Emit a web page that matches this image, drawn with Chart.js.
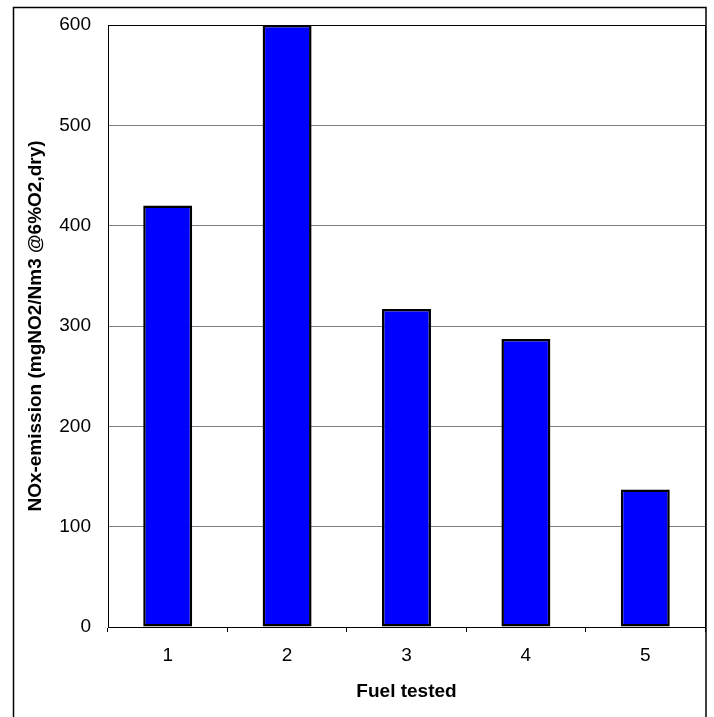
<!DOCTYPE html>
<html>
<head>
<meta charset="utf-8">
<script src="https://cdn.jsdelivr.net/npm/chart.js@4"></script>
<style>
    html, body { margin: 0; padding: 0; background: #fff; }
    #wrap { width: 714px; height: 717px; position: relative; }
</style>
</head>
<body>
<div id="wrap"><canvas id="noxChart" width="714" height="717"></canvas></div>
<script>
// Fuel test data
const fuels = ['1', '2', '3', '4', '5'];
const noxValues = [420, 600, 317, 287, 137];
const yTicks = [0, 100, 200, 300, 400, 500, 600];

const font = "'Liberation Sans', Arial, sans-serif";

// Plot frame + outer chart border
const framePlugin = {
    id: 'frame',
    afterDraw(chart) {
        const { ctx, chartArea } = chart;
        ctx.save();
        ctx.strokeStyle = '#000';
        ctx.lineWidth = 1;
        ctx.strokeRect(chartArea.left + 0.5, chartArea.top + 0.5,
            chartArea.right - chartArea.left, chartArea.bottom - chartArea.top);
        ctx.lineWidth = 1.5;
        ctx.strokeRect(13.5, 7.5, 692.5, 740);
        ctx.restore();
    }
};

new Chart(document.getElementById('noxChart'), {
    type: 'bar',
    data: {
        labels: fuels,
        datasets: [{
            data: noxValues,
            backgroundColor: '#0000ff',
            borderColor: '#000',
            borderWidth: 2.5,
            borderSkipped: false,
            categoryPercentage: 1,
            barPercentage: 0.41
        }]
    },
    options: {
        responsive: false,
        animation: false,
        layout: { padding: { top: 25, right: 9, left: 0, bottom: 0 } },
        plugins: {
            legend: { display: false },
            tooltip: { enabled: false }
        },
        scales: {
            x: {
                offset: true,
                grid: {
                    offset: true,
                    drawOnChartArea: false,
                    drawTicks: true,
                    tickLength: 5,
                    color: '#000'
                },
                border: { display: true, color: '#000', width: 1 },
                ticks: {
                    color: '#000',
                    padding: 12,
                    font: { family: font, size: 19 }
                },
                title: {
                    display: true,
                    text: 'Fuel tested',
                    color: '#000',
                    font: { family: font, size: 19, weight: 'bold' },
                    padding: { top: 0, bottom: 14 }
                },
                afterFit(scale) { scale.height = 90; }
            },
            y: {
                min: 0,
                max: 600,
                afterBuildTicks(scale) {
                    scale.ticks = yTicks.map(v => ({ value: v }));
                },
                grid: {
                    drawTicks: false,
                    color: '#808080',
                    lineWidth: 1
                },
                border: { display: true, color: '#000', width: 1 },
                ticks: {
                    color: '#000',
                    padding: 17,
                    font: { family: font, size: 19 }
                },
                title: {
                    display: true,
                    text: 'NOx-emission (mgNO2/Nm3 @6%O2,dry)',
                    color: '#000',
                    font: { family: font, size: 19, weight: 'bold' },
                    padding: { top: 24, bottom: 0 }
                },
                afterFit(scale) {
                    scale.width = 108;
                    // keep label overflow from pushing the plot top down
                    scale.paddingTop = 0;
                    scale.paddingBottom = 0;
                }
            }
        }
    },
    plugins: [framePlugin]
});
</script>
</body>
</html>
